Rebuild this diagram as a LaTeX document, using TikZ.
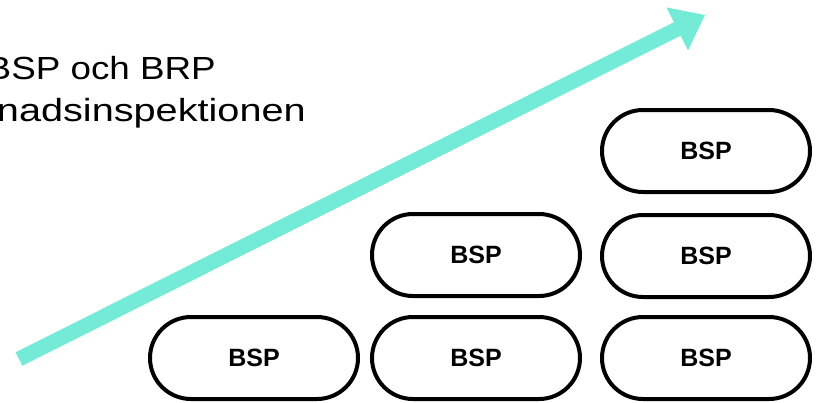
\documentclass[tikz,border=0pt]{standalone}
\usepackage{fontspec}
\setmainfont{Liberation Sans}
\usetikzlibrary{calc}
\definecolor{teal}{HTML}{73EBD7}
\begin{document}
\begin{tikzpicture}[x=1pt,y=-1pt,
  pill/.style={draw=black, line width=4pt, fill=white, rounded corners=41pt,
    minimum width=208pt, minimum height=82pt, inner sep=0pt,
    font=\fontsize{25}{29}\selectfont\bfseries},
  toptext/.style={inner sep=0pt, font=\fontsize{32}{38}\selectfont, text=black}]
\path[use as bounding box, clip] (0,0) rectangle (821,402);
\fill[white] (0,0) rectangle (821,402);
% text
\node[toptext, anchor=base east] (t1) at (216,79) {\scalebox{1.15}[1]{BSP och BRP}};
\node[toptext, anchor=base east] (t2) at (306,121) {\scalebox{1.24}[1]{nadsinspektionen}};
% arrow
\coordinate (tail) at (19,359);
\coordinate (tip) at (705,15);
\coordinate (base) at ($(tip)!31pt!(tail)$);
\coordinate (basein) at ($(tip)!28pt!(tail)$);
\coordinate (c1) at ($(base)!24pt!90:(tip)$);
\coordinate (c2) at ($(base)!24pt!-90:(tip)$);
\draw[teal, line width=15pt] (tail) -- (basein);
\fill[teal] (c1) -- (tip) -- (c2) -- cycle;
% pills
\node[pill] (p11) at (254,358) {BSP};
\node[pill] (p12) at (476,358) {BSP};
\node[pill] (p13) at (706,358) {BSP};
\node[pill] (p22) at (476,255) {BSP};
\node[pill] (p23) at (706,256) {BSP};
\node[pill] (p33) at (706,151) {BSP};
\end{tikzpicture}
\end{document}
